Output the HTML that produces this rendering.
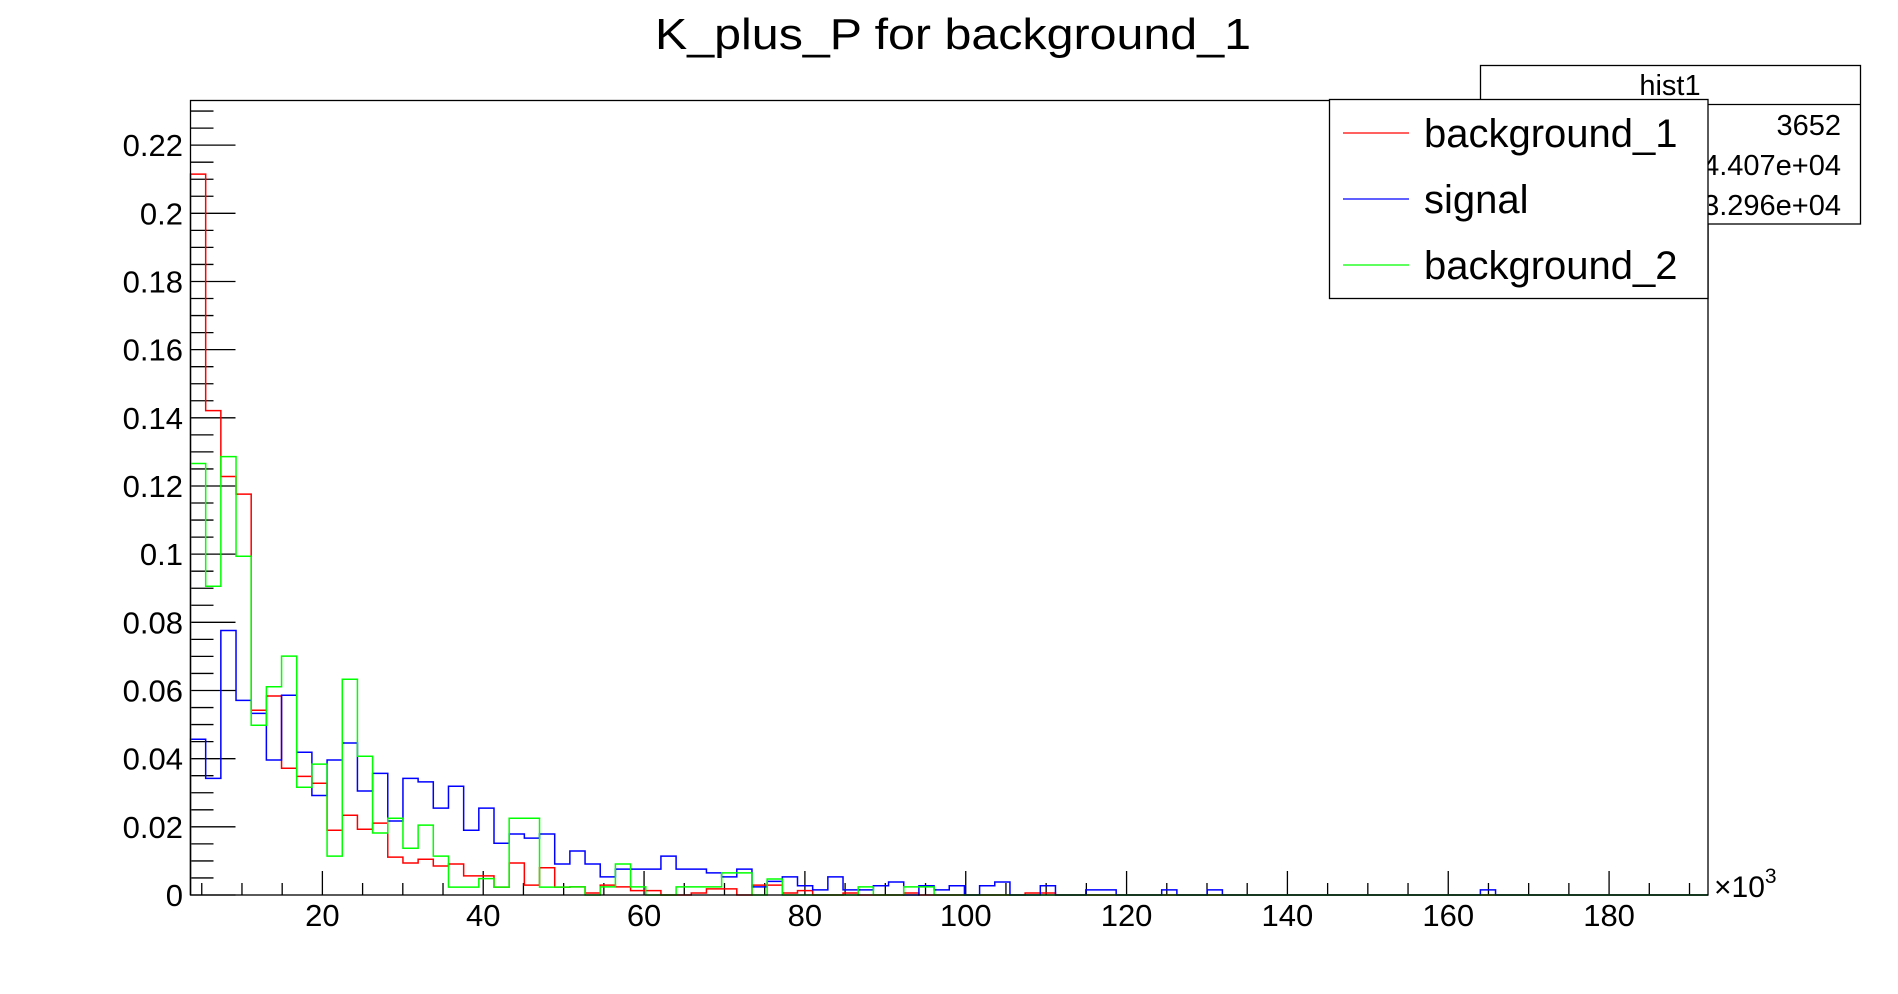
<!DOCTYPE html>
<html><head><meta charset="utf-8"><style>
html,body{margin:0;padding:0;background:#fff;}
svg{display:block;font-family:"Liberation Sans",Arial,sans-serif;}
</style></head><body>
<svg id="chart" width="1898" height="994" viewBox="0 0 1898 994" xmlns="http://www.w3.org/2000/svg">
<rect width="1898" height="994" fill="#fff"/>
<text x="953" y="49" font-size="44" text-anchor="middle" textLength="596" lengthAdjust="spacingAndGlyphs">K_plus_P for background_1</text>
<g id="axes"></g>
<g id="series"></g>
<rect x="190.5" y="100.5" width="1517.5" height="794.5" fill="none" stroke="#000" stroke-width="1.3"/>
<text x="1714" y="897" font-size="30">×10<tspan dy="-14" font-size="21">3</tspan></text>
<g>
<rect x="1480.5" y="65.5" width="380" height="158.5" fill="#fff" stroke="#000" stroke-width="1.3"/>
<line x1="1480.5" y1="104.5" x2="1860.5" y2="104.5" stroke="#000" stroke-width="1.3"/>
<text x="1670" y="95" font-size="29" text-anchor="middle">hist1</text>
<text x="1492" y="135" font-size="29">Entries</text><text x="1841" y="135" font-size="29" text-anchor="end">3652</text>
<text x="1492" y="175" font-size="29">Mean</text><text x="1841" y="175" font-size="29" text-anchor="end">4.407e+04</text>
<text x="1492" y="215" font-size="29">Std Dev</text><text x="1841" y="215" font-size="29" text-anchor="end">3.296e+04</text>
</g>
<g>
<rect x="1329.5" y="99.5" width="378.5" height="199" fill="#fff" stroke="#000" stroke-width="1.3"/>
<g><line x1="1343" y1="133" x2="1409" y2="133" stroke="#f00" stroke-width="1.3"/><text x="1424" y="147" font-size="40">background_1</text></g>
<g><line x1="1343" y1="199" x2="1409" y2="199" stroke="#00f" stroke-width="1.3"/><text x="1424" y="213" font-size="40">signal</text></g>
<g><line x1="1343" y1="265" x2="1409" y2="265" stroke="#0f0" stroke-width="1.3"/><text x="1424" y="279" font-size="40">background_2</text></g>
</g>
</svg>
<script>
const xMin = 3.6, xMax = 192.3, nBins = 100;
const yMin = 0, yMax = 0.2331;
const xTickLabels = [20,40,60,80,100,120,140,160,180];
const yTickLabels = ["0","0.02","0.04","0.06","0.08","0.1","0.12","0.14","0.16","0.18","0.2","0.22"];
const yTickValues = [0,0.02,0.04,0.06,0.08,0.1,0.12,0.14,0.16,0.18,0.2,0.22];
const background1 = [0.2115,0.1421,0.1228,0.1176,0.0542,0.0584,0.0372,0.0348,0.0328,0.0190,0.0234,0.0193,0.0211,0.0111,0.0094,0.0105,0.0085,0.0091,0.0056,0.0056,0.0023,0.0094,0.0029,0.0080,0.0023,0.0024,0.0006,0.0029,0.0024,0.0013,0.0013,0,0,0.0006,0.0018,0.0018,0,0.0029,0.0029,0.0006,0.0013,0,0,0.0006,0,0,0,0.0006,0,0,0,0,0,0,0,0.0006,0.0006,0,0,0,0,0,0,0,0,0,0,0,0,0,0,0,0,0,0,0,0,0,0,0,0,0,0,0,0,0,0,0,0,0,0,0,0,0,0,0,0,0,0,0];
const signal = [0.0457,0.0342,0.0776,0.0571,0.0533,0.0396,0.0586,0.0419,0.0292,0.0396,0.0446,0.0305,0.0357,0.0217,0.0342,0.0332,0.0255,0.0319,0.0190,0.0255,0.0152,0.0179,0.0167,0.0179,0.0091,0.0129,0.0091,0.0053,0.0076,0.0076,0.0076,0.0114,0.0076,0.0076,0.0065,0.0053,0.0076,0.0024,0.0040,0.0053,0.0027,0.0015,0.0053,0.0015,0.0015,0.0027,0.0038,0,0.0027,0.0015,0.0027,0,0.0027,0.0038,0,0,0.0027,0,0,0.0015,0.0015,0,0,0,0.0015,0,0,0.0015,0,0,0,0,0,0,0,0,0,0,0,0,0,0,0,0,0,0.0015,0,0,0,0,0,0,0,0,0,0,0,0,0,0];
const background2 = [0.1266,0.0906,0.1286,0.0994,0.0498,0.0611,0.0701,0.0316,0.0384,0.0114,0.0633,0.0407,0.0182,0.0225,0.0137,0.0205,0.0114,0.0023,0.0023,0.0048,0.0023,0.0225,0.0225,0.0023,0.0023,0.0024,0,0.0024,0.0091,0.0024,0,0,0.0024,0.0024,0.0024,0.0065,0.0065,0,0.0047,0,0,0,0,0,0.0024,0,0,0.0024,0.0024,0,0,0,0,0,0,0,0,0,0,0,0,0,0,0,0,0,0,0,0,0,0,0,0,0,0,0,0,0,0,0,0,0,0,0,0,0,0,0,0,0,0,0,0,0,0,0,0,0,0,0];

const L=190.5,R=1708,T=100.5,B=895;
const NS="http://www.w3.org/2000/svg";
function xs(v){return L+(v-xMin)/(xMax-xMin)*(R-L);}
function ys(v){return B-(v-yMin)/(yMax-yMin)*(B-T);}
function mk(tag,attrs,parent){const e=document.createElementNS(NS,tag);for(const k in attrs)e.setAttribute(k,attrs[k]);parent.appendChild(e);return e;}
const axes=document.getElementById('axes');
for(let v=0; v<=yMax+1e-9; v+=0.005){
  const major=Math.abs(v/0.02-Math.round(v/0.02))<1e-6;
  const t=mk('line',{x1:L,x2:L+(major?45:23),y1:ys(v),y2:ys(v),stroke:'#000','stroke-width':1.3},axes);
  
  
}
yTickValues.forEach((v,i)=>{
  const t=mk('text',{x:183,y:ys(v)+11,'font-size':31,'text-anchor':'end'},axes);
  t.textContent=yTickLabels[i];
  
  
});
for(let v=5; v<=xMax; v+=5){
  const major=v%20===0;
  const t=mk('line',{x1:xs(v),x2:xs(v),y1:B,y2:B-(major?24:12),stroke:'#000','stroke-width':1.3},axes);
  
  
}
xTickLabels.forEach(v=>{
  const t=mk('text',{x:xs(v),y:926,'font-size':31,'text-anchor':'middle'},axes);
  t.textContent=String(v);
  
  
});
const bw=(xMax-xMin)/nBins;
function drawHist(vals,color,name){
  let d='M'+xs(xMin)+','+ys(0);
  vals.forEach((v,i)=>{const lo=xMin+i*bw,hi=lo+bw;d+=' L'+xs(lo)+','+ys(v)+' L'+xs(hi)+','+ys(v);});
  d+=' L'+xs(xMax)+','+ys(0);
  const p=mk('path',{d:d,fill:'none',stroke:color,'stroke-width':1.5},document.getElementById('series'));
  
  
}
drawHist(background1,'#f00','background-1-histogram');
drawHist(signal,'#00f','signal-histogram');
drawHist(background2,'#0f0','background-2-histogram');
</script>
</body></html>
